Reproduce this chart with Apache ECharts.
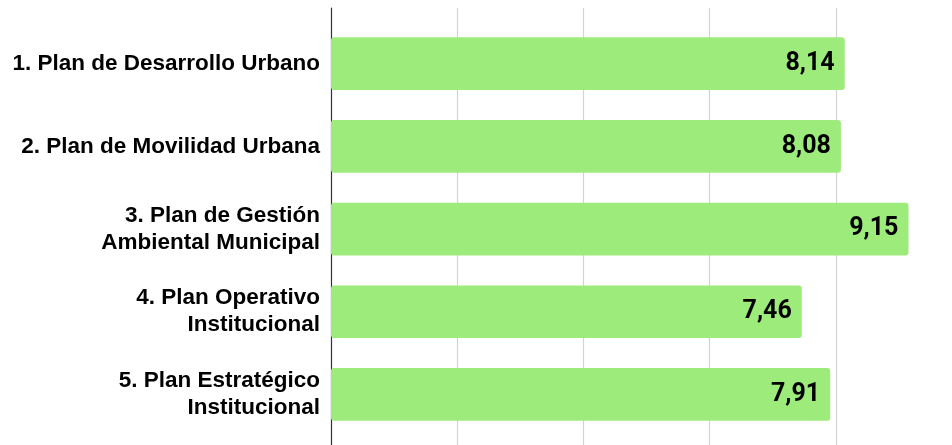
<!DOCTYPE html>
<html>
<head>
<meta charset="utf-8">
<script src="https://cdn.jsdelivr.net/npm/echarts@6/dist/echarts.min.js"></script>
<style>
  html, body { margin: 0; padding: 0; background: #fff; }
  #chart { width: 952px; height: 445px; }
</style>
</head>
<body>
<div id="chart"></div>
<script>
// datos
let planes = [
    "1. Plan de Desarrollo Urbano",
    "2. Plan de Movilidad Urbana",
    "3. Plan de Gestión\nAmbiental Municipal",
    "4. Plan Operativo\nInstitucional",
    "5. Plan Estratégico\nInstitucional"
];
let puntajes = [8.14, 8.08, 9.15, 7.46, 7.91];

let chartDOM = document.getElementById("chart");
let chart = echarts.init(chartDOM);

let xMax = 9.84;

let opts = {
    animation: false,
    grid: [
        // barras
        { left: 331, right: 0, top: 22.3, height: 413.5 },
        // lineas de fondo
        { left: 331, right: 0, top: 8, bottom: 0 }
    ],
    xAxis: [
        {
            gridIndex: 0,
            type: "value",
            min: 0,
            max: xMax,
            interval: 2,
            axisLine: { show: false },
            axisTick: { show: false },
            axisLabel: { show: false },
            splitLine: { show: false }
        },
        {
            gridIndex: 1,
            type: "value",
            min: 0,
            max: xMax,
            interval: 2,
            axisLine: { show: false },
            axisTick: { show: false },
            axisLabel: { show: false },
            splitLine: {
                show: true,
                showMinLine: false,
                showMaxLine: false,
                lineStyle: { color: "#d3d3d3", width: 1.2 }
            }
        }
    ],
    yAxis: [
        {
            gridIndex: 0,
            type: "category",
            data: planes,
            inverse: true,
            axisLine: { show: false },
            axisTick: { show: false },
            axisLabel: {
                margin: 11,
                fontFamily: "'Liberation Sans', Arial, sans-serif",
                fontSize: 22.5,
                fontWeight: "bold",
                color: "#000",
                lineHeight: 27,
                align: "right"
            }
        },
        {
            gridIndex: 1,
            type: "value",
            min: 0,
            max: 1,
            axisLine: { show: true, lineStyle: { color: "#333", width: 1.2 } },
            axisTick: { show: false },
            axisLabel: { show: false },
            splitLine: { show: false }
        }
    ],
    series: [{
        type: "bar",
        xAxisIndex: 0,
        yAxisIndex: 0,
        data: puntajes,
        barWidth: 52.7,
        z: 3,
        itemStyle: {
            color: "#9deb7b",
            borderRadius: 3
        },
        label: {
            show: true,
            position: "insideRight",
            distance: 10,
            fontFamily: "Roboto, 'Liberation Sans', sans-serif",
            fontSize: 25,
            fontWeight: "bold",
            color: "#000",
            formatter: function (p) {
                return p.value.toFixed(2).replace(".", ",");
            }
        }
    }]
};
chart.setOption(opts);
</script>
</body>
</html>
